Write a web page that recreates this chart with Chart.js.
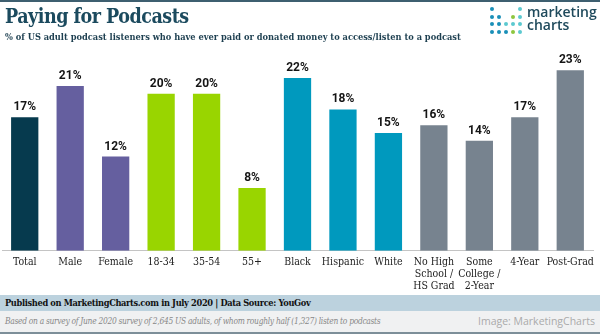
<!DOCTYPE html>
<html>
<head>
<meta charset="utf-8">
<script src="https://cdn.jsdelivr.net/npm/chart.js@4"></script>
<style>
  html,body{margin:0;padding:0;background:#fff;}
  #wrap{position:relative;width:600px;height:334px;overflow:hidden;background:#fff;}
  #c{position:absolute;left:0;top:0;}
  .topline{position:absolute;left:0;top:0;width:600px;height:2px;background:#3e5f70;}
  .title{position:absolute;left:5px;top:5px;font-family:"DejaVu Serif Condensed","DejaVu Serif",serif;font-stretch:condensed;font-weight:bold;font-size:19.5px;color:#1b4a5e;white-space:nowrap;letter-spacing:-0.5px;}
  .sub{position:absolute;left:5px;top:31px;font-family:"DejaVu Serif Condensed","DejaVu Serif",serif;font-stretch:condensed;font-weight:bold;font-size:9.2px;color:#1d3f50;white-space:nowrap;}
  .logo-dots{position:absolute;left:490px;top:7px;}
  .dot{position:absolute;width:4px;height:4px;border-radius:50%;}
  .logo-text{position:absolute;left:527px;top:5px;font-family:"Open Sans",sans-serif;font-weight:600;font-size:14px;line-height:13px;color:#1f4a5c;}
  .band{position:absolute;left:0;top:295px;width:600px;height:16px;background:#bcd2de;}
  .band span{position:absolute;left:5px;top:2px;font-family:"DejaVu Serif Condensed","DejaVu Serif",serif;font-stretch:condensed;font-weight:bold;font-size:9.2px;letter-spacing:-0.35px;color:#111;white-space:nowrap;}
  .foot{position:absolute;left:0;top:311px;width:600px;height:21px;background:#f0f1f2;}
  .foot .note{position:absolute;left:5px;top:5px;font-family:"DejaVu Serif Condensed","DejaVu Serif",serif;font-stretch:condensed;font-style:italic;font-size:8.4px;letter-spacing:-0.3px;color:#888;white-space:nowrap;}
  .foot .img{position:absolute;right:5px;top:3px;font-family:"Open Sans",sans-serif;font-size:10.5px;color:#aaa;white-space:nowrap;}
  .botline{position:absolute;left:0;top:332px;width:600px;height:2px;background:#7d8f99;}
</style>
</head>
<body>
<div id="wrap">
  <canvas id="c" width="600" height="334"></canvas>
  <div class="topline"></div>
  <div class="title">Paying for Podcasts</div>
  <div class="sub">% of US adult podcast listeners who have ever paid or donated money to access/listen to a podcast</div>
  <div class="logo-dots" id="dots"></div>
  <div class="logo-text">marketing<br>charts</div>
  <div class="band"><span>Published on MarketingCharts.com in July 2020 | Data Source: YouGov</span></div>
  <div class="foot"><span class="note">Based on a survey of June 2020 survey of 2,645 US adults, of whom roughly half (1,327) listen to podcasts</span><span class="img">Image: MarketingCharts</span></div>
  <div class="botline"></div>
</div>
<script>
// ---- data ----
const categories = [
  "Total", "Male", "Female", "18-34", "35-54", "55+",
  "Black", "Hispanic", "White",
  ["No High", "School /", "HS Grad"], ["Some", "College /", "2-Year"], "4-Year", "Post-Grad"
];
const values = [17, 21, 12, 20, 20, 8, 22, 18, 15, 16, 14, 17, 23];
const groups = ["total", "gender", "gender", "age", "age", "age", "race", "race", "race", "edu", "edu", "edu", "edu"];
const groupColors = { total: "#063a4e", gender: "#655f9f", age: "#99d500", race: "#0099be", edu: "#77838f" };

// ---- logo dots (decorative) ----
(function(){
  const B="#1a8fb8", T="#5cc9d0", G="#8dc63f";
  const rows = [
    [B,null,null,null,T],
    [B,B,null,G,T],
    [B,B,T,T,T],
    [B,B,B,G,T]
  ];
  const el = document.getElementById('dots');
  rows.forEach((r,ri)=>r.forEach((c,ci)=>{
    if(!c) return;
    const d=document.createElement('div');
    d.className='dot'; d.style.background=c;
    d.style.left=(ci*7)+'px'; d.style.top=(ri*7.5)+'px';
    el.appendChild(d);
  }));
})();

const valueLabels = {
  id: 'valueLabels',
  afterDatasetsDraw(chart) {
    const ctx = chart.ctx;
    const meta = chart.getDatasetMeta(0);
    ctx.save();
    ctx.font = 'bold 12px Roboto, sans-serif';
    ctx.fillStyle = '#151515';
    ctx.textAlign = 'center';
    ctx.textBaseline = 'bottom';
    meta.data.forEach((bar, i) => {
      ctx.fillText(values[i] + '%', bar.x, bar.y - 4);
    });
    ctx.restore();
  }
};

new Chart(document.getElementById('c'), {
  type: 'bar',
  data: {
    labels: categories,
    datasets: [{
      data: values,
      backgroundColor: groups.map(g => groupColors[g]),
      borderWidth: 0,
      categoryPercentage: 1,
      barPercentage: 0.6
    }]
  },
  options: {
    responsive: false,
    animation: false,
    layout: { padding: { left: 2, right: 7, top: 54.5, bottom: 37 } },
    plugins: { legend: { display: false }, tooltip: { enabled: false } },
    scales: {
      x: {
        grid: { display: false, drawTicks: false },
        border: { display: true, color: '#c4c4c4', dash: [2, 2], width: 1 },
        ticks: {
          autoSkip: false, maxRotation: 0, padding: 5,
          color: '#222',
          font: { family: '"DejaVu Serif Condensed", "DejaVu Serif", serif', size: 10.5, lineHeight: 1.15 }
        }
      },
      y: { display: false, min: 0, max: 25 }
    }
  },
  plugins: [valueLabels]
});
</script>
</body>
</html>
